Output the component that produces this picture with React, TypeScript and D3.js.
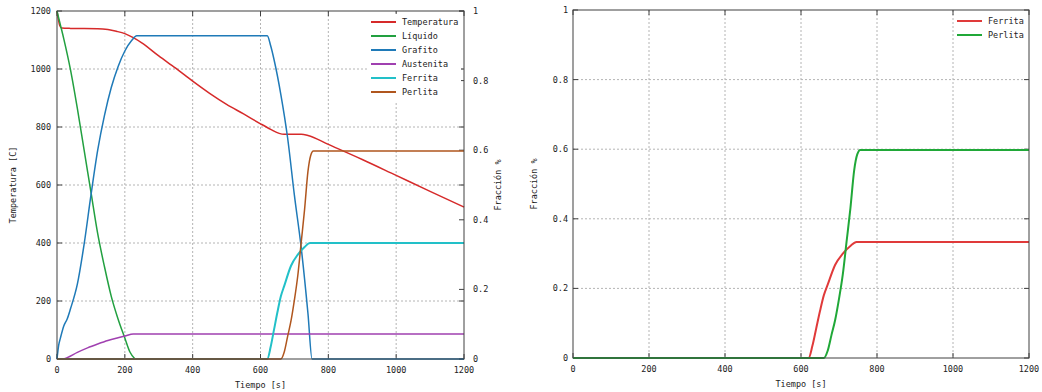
import { useEffect, useRef } from 'react'
import * as d3 from 'd3'

// [tiempo s, valor]
const temperatura = [[0, 1200], [4, 1172], [8, 1150], [14, 1141], [40, 1140], [120, 1139], [150, 1136], [175, 1130], [200, 1122], [225, 1108], [250, 1090], [300, 1045], [350, 1003], [400, 958], [450, 916], [500, 878], [550, 845], [600, 811], [630, 792], [655, 778], [670, 775], [720, 775], [740, 771], [800, 740], [900, 688], [1000, 633], [1100, 578], [1200, 524]]
const liquido = [[0, 1], [10, 0.96], [20, 0.92], [40, 0.83], [60, 0.72], [80, 0.6], [100, 0.48], [120, 0.36], [140, 0.265], [160, 0.18], [180, 0.115], [200, 0.06], [215, 0.02], [230, 0]]
const grafito = [[0, 0], [5, 0.04], [10, 0.06], [20, 0.095], [30, 0.115], [40, 0.145], [60, 0.215], [80, 0.33], [100, 0.47], [120, 0.6], [140, 0.7], [160, 0.78], [180, 0.84], [200, 0.885], [220, 0.915], [235, 0.929], [620, 0.929], [630, 0.9], [640, 0.86], [660, 0.76], [680, 0.635], [700, 0.47], [720, 0.32], [740, 0.13], [752, 0], [1200, 0]]
const austenita = [[0, 0], [18, 0], [30, 0.004], [60, 0.019], [90, 0.032], [120, 0.043], [150, 0.053], [180, 0.061], [200, 0.066], [225, 0.072], [1200, 0.072]]
const ferrita = [[0, 0], [620, 0], [630, 0.035], [640, 0.085], [650, 0.135], [660, 0.18], [670, 0.21], [690, 0.268], [710, 0.3], [730, 0.322], [746, 0.333], [1200, 0.333]]
const perlita = [[0, 0], [660, 0], [670, 0.02], [680, 0.065], [690, 0.11], [700, 0.17], [710, 0.24], [720, 0.335], [730, 0.43], [740, 0.54], [748, 0.585], [756, 0.598], [1200, 0.598]]

const tiempoTicks = [0, 200, 400, 600, 800, 1000, 1200]
const temperaturaTicks = [0, 200, 400, 600, 800, 1000, 1200]
const fraccionTicks = [0, 0.2, 0.4, 0.6, 0.8, 1]

const font = '"DejaVu Sans Mono", monospace'

function frame(g: any, x: any, y: any, w: number, h: number, gridY: number[]) {
    g.selectAll('.gx').data(tiempoTicks.slice(1, -1)).enter().append('line')
        .attr('x1', (d: number) => x(d)).attr('x2', (d: number) => x(d))
        .attr('y1', 0).attr('y2', h)
        .style('stroke', '#b4b4b4').style('stroke-dasharray', '2,2')
    g.selectAll('.gy').data(gridY).enter().append('line')
        .attr('x1', 0).attr('x2', w)
        .attr('y1', (d: number) => y(d)).attr('y2', (d: number) => y(d))
        .style('stroke', '#b4b4b4').style('stroke-dasharray', '2,2')
    g.selectAll('.tt').data(tiempoTicks).enter().append('line')
        .attr('x1', (d: number) => x(d)).attr('x2', (d: number) => x(d))
        .attr('y1', 0).attr('y2', 5).style('stroke', '#404040')
    g.selectAll('.tb').data(tiempoTicks).enter().append('line')
        .attr('x1', (d: number) => x(d)).attr('x2', (d: number) => x(d))
        .attr('y1', h).attr('y2', h - 5).style('stroke', '#404040')
    g.selectAll('.xl').data(tiempoTicks).enter().append('text')
        .attr('x', (d: number) => x(d)).attr('y', h + 14)
        .style('text-anchor', 'middle').style('font-family', font).style('font-size', '8.5px').style('fill', '#222')
        .text((d: number) => d)
    g.append('text')
        .attr('x', w / 2).attr('y', h + 29)
        .style('text-anchor', 'middle').style('font-family', font).style('font-size', '8.5px').style('fill', '#222')
        .text('Tiempo [s]')
}

function border(g: any, w: number, h: number) {
    g.append('rect').attr('width', w).attr('height', h)
        .style('fill', 'none').style('stroke', '#404040').style('stroke-width', 1)
}

function legend(g: any, x0: number, y0: number, items: [string, string][], boxW: number) {
    g.append('rect').attr('x', x0 - 4).attr('y', y0 - 8).attr('width', boxW).attr('height', items.length * 14 + 3)
        .style('fill', 'white')
    items.forEach(([name, color], i) => {
        g.append('line').attr('x1', x0).attr('x2', x0 + 25)
            .attr('y1', y0 + i * 14).attr('y2', y0 + i * 14)
            .style('stroke', color).style('stroke-width', 2)
        g.append('text').attr('x', x0 + 31).attr('y', y0 + i * 14 + 3)
            .style('font-family', font).style('font-size', '8.5px').style('fill', '#222')
            .text(name)
    })
}

function App() {
    const ref = useRef<SVGSVGElement>(null)

    useEffect(() => {
        const svg = d3.select(ref.current)
        svg.selectAll('*').remove()

        // izquierda
        const m1 = { left: 57, top: 11 }
        const w1 = 407
        const h1 = 348
        const x1 = d3.scaleLinear().domain([0, 1200]).range([0, w1])
        const yT = d3.scaleLinear().domain([0, 1200]).range([h1, 0])
        const yF = d3.scaleLinear().domain([0, 1]).range([h1, 0])
        const g1 = svg.append('g').attr('transform', `translate(${m1.left}, ${m1.top})`)

        frame(g1, x1, yT, w1, h1, temperaturaTicks.slice(1, -1))

        g1.selectAll('.tl').data(temperaturaTicks).enter().append('line')
            .attr('x1', 0).attr('x2', 5)
            .attr('y1', (d: number) => yT(d)).attr('y2', (d: number) => yT(d)).style('stroke', '#404040')
        g1.selectAll('.tr').data(temperaturaTicks).enter().append('line')
            .attr('x1', w1).attr('x2', w1 - 5)
            .attr('y1', (d: number) => yT(d)).attr('y2', (d: number) => yT(d)).style('stroke', '#404040')
        g1.selectAll('.fr').data(fraccionTicks).enter().append('line')
            .attr('x1', w1).attr('x2', w1 - 5)
            .attr('y1', (d: number) => yF(d)).attr('y2', (d: number) => yF(d)).style('stroke', '#404040')
        g1.selectAll('.yl').data(temperaturaTicks).enter().append('text')
            .attr('x', -6).attr('y', (d: number) => yT(d) + 3)
            .style('text-anchor', 'end').style('font-family', font).style('font-size', '8.5px').style('fill', '#222')
            .text((d: number) => d)
        g1.selectAll('.yr').data(fraccionTicks).enter().append('text')
            .attr('x', w1 + 9).attr('y', (d: number) => yF(d) + 3)
            .style('font-family', font).style('font-size', '8.5px').style('fill', '#222')
            .text((d: number) => d)
        g1.append('text')
            .attr('transform', `translate(${-41}, ${h1 / 2}) rotate(-90)`)
            .style('text-anchor', 'middle').style('font-family', font).style('font-size', '8.5px').style('fill', '#222')
            .text('Temperatura [C]')
        g1.append('text')
            .attr('transform', `translate(${w1 + 37}, ${h1 / 2}) rotate(-90)`)
            .style('text-anchor', 'middle').style('font-family', font).style('font-size', '8.5px').style('fill', '#222')
            .text('Fracción %')

        const lineT = d3.line<number[]>().x(d => x1(d[0])).y(d => yT(d[1])).curve(d3.curveMonotoneX)
        const lineF = d3.line<number[]>().x(d => x1(d[0])).y(d => yF(d[1])).curve(d3.curveMonotoneX)

        const series1: [number[][], any, string, number][] = [
            [temperatura, lineT, '#d62a2a', 1.5],
            [liquido, lineF, '#22a040', 1.5],
            [grafito, lineF, '#1f7ab8', 1.5],
            [austenita, lineF, '#a040b0', 1.5],
            [ferrita, lineF, '#22c0c8', 2],
            [perlita, lineF, '#b0561e', 1.5],
        ]
        series1.forEach(([data, gen, color, sw]) => {
            g1.append('path').datum(data).attr('d', gen)
                .style('fill', 'none').style('stroke', color).style('stroke-width', sw)
        })

        legend(g1, 314, 11, [
            ['Temperatura', '#d62a2a'],
            ['Líquido', '#22a040'],
            ['Grafito', '#1f7ab8'],
            ['Austenita', '#a040b0'],
            ['Ferrita', '#22c0c8'],
            ['Perlita', '#b0561e'],
        ], 94)
        border(g1, w1, h1)

        // derecha
        const m2 = { left: 573, top: 10 }
        const w2 = 456
        const h2 = 348
        const x2 = d3.scaleLinear().domain([0, 1200]).range([0, w2])
        const y2 = d3.scaleLinear().domain([0, 1]).range([h2, 0])
        const g2 = svg.append('g').attr('transform', `translate(${m2.left}, ${m2.top})`)

        frame(g2, x2, y2, w2, h2, fraccionTicks.slice(1, -1))
        g2.selectAll('.tl').data(fraccionTicks).enter().append('line')
            .attr('x1', 0).attr('x2', 5)
            .attr('y1', (d: number) => y2(d)).attr('y2', (d: number) => y2(d)).style('stroke', '#404040')
        g2.selectAll('.tr').data(fraccionTicks).enter().append('line')
            .attr('x1', w2).attr('x2', w2 - 5)
            .attr('y1', (d: number) => y2(d)).attr('y2', (d: number) => y2(d)).style('stroke', '#404040')
        g2.selectAll('.yl').data(fraccionTicks).enter().append('text')
            .attr('x', -5).attr('y', (d: number) => y2(d) + 3)
            .style('text-anchor', 'end').style('font-family', font).style('font-size', '8.5px').style('fill', '#222')
            .text((d: number) => d)
        g2.append('text')
            .attr('transform', `translate(${-36}, ${h2 / 2}) rotate(-90)`)
            .style('text-anchor', 'middle').style('font-family', font).style('font-size', '8.5px').style('fill', '#222')
            .text('Fracción %')

        const line2 = d3.line<number[]>().x(d => x2(d[0])).y(d => y2(d[1])).curve(d3.curveMonotoneX)
        g2.append('path').datum(ferrita).attr('d', line2)
            .style('fill', 'none').style('stroke', '#e03a3a').style('stroke-width', 2)
        g2.append('path').datum(perlita).attr('d', line2)
            .style('fill', 'none').style('stroke', '#20a838').style('stroke-width', 2)

        legend(g2, 384, 11, [
            ['Ferrita', '#e03a3a'],
            ['Perlita', '#20a838'],
        ], 0)
        border(g2, w2, h2)
    })

    return (
        <svg ref={ref} width={1042} height={392}
            style={{ position: 'absolute', left: 0, top: 0, background: 'white' }} />
    )
}

export default App
